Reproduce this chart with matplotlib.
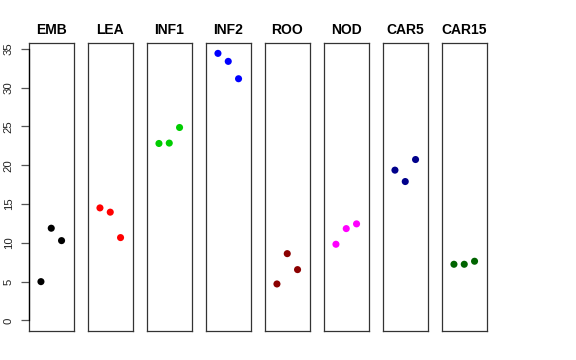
import matplotlib
matplotlib.use("Agg")
import matplotlib.pyplot as plt

plt.rcParams['font.family'] = ['Liberation Sans', 'DejaVu Sans']

panels = ["EMB", "LEA", "INF1", "INF2", "ROO", "NOD", "CAR5", "CAR15"]
colors = ["#000000", "#FF0000", "#00CD00", "#0000FF", "#8B0000", "#FF00FF", "#00008B", "#006400"]
emb = [4.99, 11.88, 10.28]
lea = [14.50, 13.95, 10.67]
inf1 = [22.81, 22.86, 24.87]
inf2 = [34.43, 33.40, 31.16]
roo = [4.69, 8.60, 6.54]
nod = [9.81, 11.83, 12.44]
car5 = [19.37, 17.90, 20.74]
car15 = [7.23, 7.23, 7.62]
series = [emb, lea, inf1, inf2, roo, nod, car5, car15]
xpos = [1, 2, 3]
yticks = [0, 5, 10, 15, 20, 25, 30, 35]

W, H = 576, 360
fig = plt.figure(figsize=(W / 100, H / 100), dpi=100)

ymax = max(max(s) for s in series)
ymin = 0.0
pad = 0.04 * (ymax - ymin)

left0, step, pw = 29.0, 59.0, 44.5
top, bottom = 42.7, 331.0

for i, (name, col, vals) in enumerate(zip(panels, colors, series)):
    x0 = left0 + step * i
    ax = fig.add_axes([x0 / W, (H - bottom) / H, pw / W, (bottom - top) / H])
    ax.scatter(xpos, vals, s=26, color=col, edgecolors='none', zorder=3)
    ax.set_xlim(0 - 0.16, 4 + 0.16)
    ax.set_ylim(ymin - pad, ymax + pad)
    ax.set_xticks([])
    for sp in ax.spines.values():
        sp.set_color('#333333')
        sp.set_linewidth(0.9)
    ax.set_title(name, fontsize=10, fontweight='bold', pad=6)
    if i == 0:
        ax.set_yticks(yticks)
        ax.set_yticklabels([str(t) for t in yticks], rotation=90, va='center', fontsize=8.2, color='#222222')
        ax.tick_params(axis='y', length=6, width=0.9, color='#555555', pad=5)
        ax.spines['left'].set_bounds(0, 35)
        ax.spines['left'].set_color('#000000')
        ax.plot([0, 0], [ymin - pad, ymax + pad], transform=ax.get_yaxis_transform(),
                color='#333333', lw=0.9, clip_on=False, zorder=1)
    else:
        ax.set_yticks([])

fig.savefig("out.png", dpi=100)
